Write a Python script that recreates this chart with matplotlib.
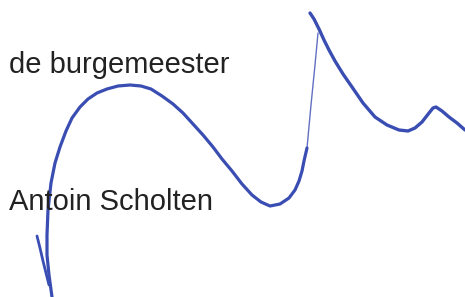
import matplotlib.pyplot as plt

# signature strokes (pixel coordinates, y down)
main_x = [52, 49, 47, 47, 48, 51, 55, 60, 66, 72, 80, 88, 97, 107, 118, 130, 141, 151, 162, 173, 183, 193, 203, 213,
          222, 232, 242, 252, 261, 270, 280, 289, 295, 299, 302, 304, 307]
main_y = [297, 275, 255, 235, 210, 183, 163, 147, 131, 118, 107, 99, 93, 89, 86, 85, 86, 89, 96, 104, 113, 124, 135, 147,
          159, 171, 184, 195, 202, 206, 204, 198, 190, 181, 171, 161, 148]

thin_x = [307, 311, 315, 318]
thin_y = [148, 105, 65, 33]

peak_x = [310, 314, 319, 324, 329, 335, 343, 352, 363, 375, 387, 399, 408, 415, 422, 429, 433, 436, 442, 449, 457, 465]
peak_y = [13, 19, 29, 40, 50, 61, 74, 87, 103, 117, 125, 130, 131, 128, 122, 113, 108, 107, 111, 117, 123, 130]

tail_x = [37, 40, 43, 46, 49]
tail_y = [236, 248, 261, 273, 285]

labels = ["de burgemeester", "Antoin Scholten"]
label_y = [73, 210]

ink = "#3a4db2"

fig = plt.figure(figsize=(4.65, 2.97), dpi=100)
ax = fig.add_axes([0, 0, 1, 1])
ax.set_xlim(0, 465)
ax.set_ylim(297, 0)
ax.axis("off")

for lab, y in zip(labels, label_y):
    ax.text(9, y, lab, fontsize=21, family="Liberation Sans", color="#222222", va="baseline", ha="left")

ax.plot(main_x, main_y, color=ink, lw=2.3, solid_capstyle="round", solid_joinstyle="round")
ax.plot(thin_x, thin_y, color=ink, lw=1.0, alpha=0.8, solid_capstyle="round")
ax.plot(peak_x, peak_y, color=ink, lw=2.4, solid_capstyle="round", solid_joinstyle="round")
ax.plot(tail_x, tail_y, color=ink, lw=2.0, solid_capstyle="round")

fig.savefig("out.png", dpi=100, facecolor="white")
